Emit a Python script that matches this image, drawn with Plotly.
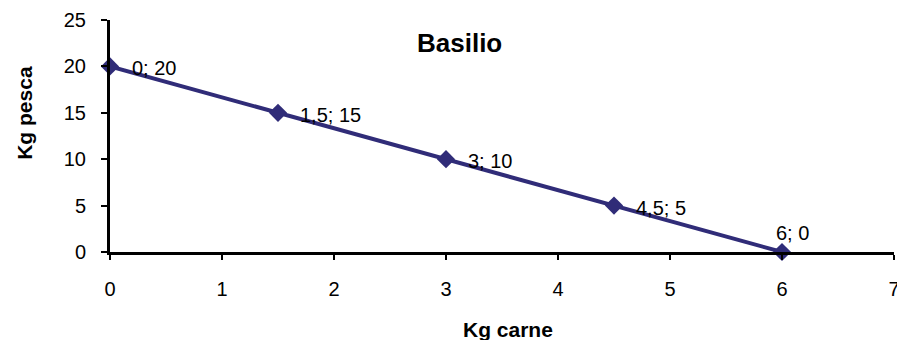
import plotly.graph_objects as go

kg_carne = [0, 1.5, 3, 4.5, 6]
kg_pesca = [20, 15, 10, 5, 0]
point_labels = ["0; 20", "1,5; 15", "3; 10", "4,5; 5", "6; 0"]
x_ticks = [0, 1, 2, 3, 4, 5, 6, 7]
y_ticks = [0, 5, 10, 15, 20, 25]

LINE_COLOR = "#302C78"
FONT = "Arial, Liberation Sans, sans-serif"

fig = go.Figure()
fig.add_trace(go.Scatter(
    x=kg_carne, y=kg_pesca, mode="lines+markers",
    line=dict(color=LINE_COLOR, width=4),
    marker=dict(symbol="diamond", size=14, color=LINE_COLOR),
    cliponaxis=False, showlegend=False, hoverinfo="skip",
))

annotations = []
for i, (xv, yv, lab) in enumerate(zip(kg_carne, kg_pesca, point_labels)):
    if i < len(kg_carne) - 1:
        annotations.append(dict(x=xv, y=yv, xref="x", yref="y", text=lab,
                                showarrow=False, xanchor="left", yanchor="middle",
                                xshift=20, yshift=-2,
                                font=dict(family=FONT, size=20, color="black")))
    else:
        annotations.append(dict(x=xv, y=yv, xref="x", yref="y", text=lab,
                                showarrow=False, xanchor="center", yanchor="bottom",
                                xshift=10, yshift=6,
                                font=dict(family=FONT, size=20, color="black")))

annotations.append(dict(x=0.446, y=0.90, xref="paper", yref="paper", text="<b>Basilio</b>",
                        showarrow=False, xanchor="center", yanchor="middle",
                        font=dict(family=FONT, size=26, color="black")))
annotations.append(dict(x=0.508, y=-0.333, xref="paper", yref="paper", text="<b>Kg carne</b>",
                        showarrow=False, xanchor="center", yanchor="middle",
                        font=dict(family=FONT, size=21, color="black")))
annotations.append(dict(x=0, y=0.60, xref="paper", yref="paper", text="<b>Kg pesca</b>",
                        showarrow=False, xanchor="center", yanchor="middle", xshift=-85,
                        textangle=-90,
                        font=dict(family=FONT, size=21, color="black")))

fig.update_layout(
    width=897, height=340,
    margin=dict(l=110, r=3, t=20, b=88, autoexpand=False),
    paper_bgcolor="white", plot_bgcolor="white",
    font=dict(family=FONT, size=20, color="black"),
    annotations=annotations,
    xaxis=dict(range=[0, 7], tickvals=x_ticks, showgrid=False, zeroline=False,
               showline=True, linecolor="black", linewidth=3, automargin=False,
               ticklabeloverflow="allow",
               ticks="outside", ticklen=5, tickwidth=2, tickcolor="black",
               ticklabelstandoff=12, tickfont=dict(size=20)),
    yaxis=dict(range=[0, 25], tickvals=y_ticks, showgrid=False, zeroline=False,
               showline=True, linecolor="black", linewidth=3, automargin=False,
               ticklabeloverflow="allow",
               ticks="outside", ticklen=6, tickwidth=2, tickcolor="black",
               ticklabelstandoff=11, tickfont=dict(size=20)),
)

fig.write_html("out.html", config={"displayModeBar": False},
               post_script="document.body.style.margin='0';document.body.style.overflow='hidden';")
